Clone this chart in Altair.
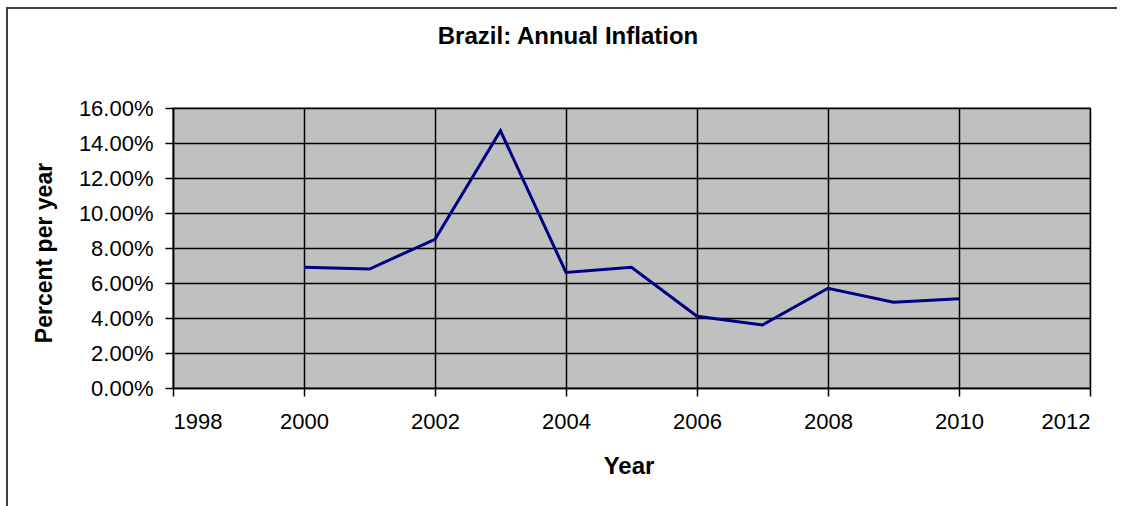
import altair as alt
import pandas as pd

# Annual inflation rate (fraction per year)
years = [2000, 2001, 2002, 2003, 2004, 2005, 2006, 2007, 2008, 2009, 2010]
inflation = [0.069, 0.068, 0.085, 0.147, 0.066, 0.069, 0.041, 0.036, 0.057, 0.049, 0.051]

x_ticks = [1998, 2000, 2002, 2004, 2006, 2008, 2010, 2012]
y_ticks = [0.0, 0.02, 0.04, 0.06, 0.08, 0.10, 0.12, 0.14, 0.16]

title_text = "Brazil: Annual Inflation"
x_title = "Year"
y_title = "Percent per year"

FONT = "Liberation Sans"

df = pd.DataFrame({"year": years, "rate": inflation})
one = pd.DataFrame({"k": [0]})

line = alt.Chart(df).mark_line(color="#000080", strokeWidth=3).encode(
    x=alt.X(
        "year:Q",
        scale=alt.Scale(domain=[1998, 2012], nice=False, zero=False),
        axis=alt.Axis(values=x_ticks, format="d", title=None, labelPadding=15),
    ),
    y=alt.Y(
        "rate:Q",
        scale=alt.Scale(domain=[0, 0.16], nice=False),
        axis=alt.Axis(values=y_ticks, format=".2%", title=None, labelPadding=12),
    ),
)

# Outer chart frame: top and left edges, kept inside the canvas
frame_top = alt.Chart(one).mark_rule(stroke="#404040", strokeWidth=2).encode(
    x=alt.value(-166), x2=alt.value(944), y=alt.value(-100)
)
frame_left = alt.Chart(one).mark_rule(stroke="#404040", strokeWidth=2).encode(
    x=alt.value(-166), y=alt.value(-101), y2=alt.value(398)
)

title = alt.Chart(one).mark_text(
    text=title_text, font=FONT, fontSize=24, fontWeight="bold",
    align="center", baseline="middle", color="#000000",
).encode(x=alt.value(395), y=alt.value(-71))

xlab = alt.Chart(one).mark_text(
    text=x_title, font=FONT, fontSize=24, fontWeight="bold",
    align="center", baseline="middle", color="#000000",
).encode(x=alt.value(456), y=alt.value(359))

ylab = alt.Chart(one).mark_text(
    text=y_title, font=FONT, fontSize=23, fontWeight="bold",
    align="center", baseline="middle", angle=270, color="#000000",
).encode(x=alt.value(-128), y=alt.value(145))

chart = (
    alt.layer(line, frame_top, frame_left, title, xlab, ylab)
    .properties(
        width=917,
        height=280,
        autosize=alt.AutoSizeParams(type="none"),
        padding={"left": 173, "top": 108, "right": 35, "bottom": 118},
        background="#ffffff",
    )
    .configure_view(fill="#c0c0c0", stroke="#808080", strokeWidth=1.5)
    .configure_axis(
        grid=True,
        gridColor="#000000",
        gridWidth=1.5,
        gridOpacity=1,
        domainColor="#000000",
        domainWidth=1.5,
        tickColor="#000000",
        tickWidth=1.5,
        tickSize=8,
        labelFont=FONT,
        labelFontSize=22,
        labelColor="#000000",
    )
)

chart.save("out.html", embed_options={"renderer": "svg", "actions": False})
